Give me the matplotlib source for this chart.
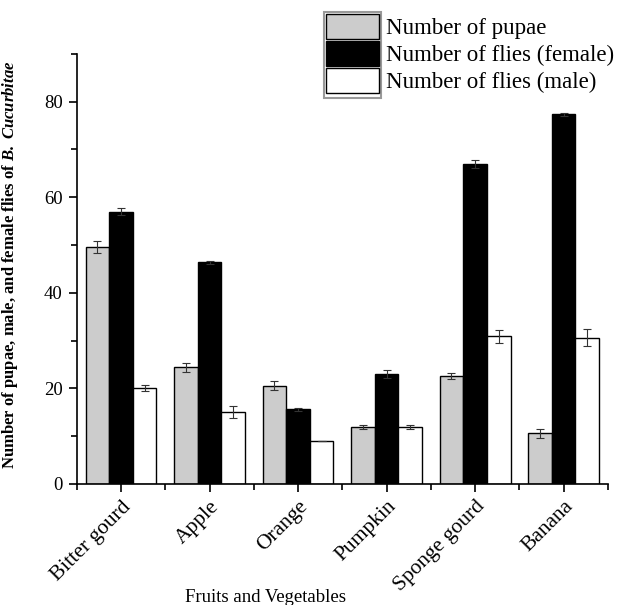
import numpy as np
import matplotlib.pyplot as plt
from matplotlib.patches import Rectangle
from matplotlib.ticker import MultipleLocator, FixedLocator

# -----------------------------
# Global style
# -----------------------------
plt.rcParams["font.family"] = "Liberation Serif"
plt.rcParams["mathtext.fontset"] = "custom"
plt.rcParams["mathtext.rm"] = "Liberation Serif"
plt.rcParams["mathtext.bf"] = "Liberation Serif:bold"
plt.rcParams["mathtext.it"] = "Liberation Serif:italic"
plt.rcParams["mathtext.bfit"] = "Liberation Serif:italic:bold"

# -----------------------------
# Data
# -----------------------------
categories = ["Bitter gourd", "Apple", "Orange", "Pumpkin", "Sponge gourd", "Banana"]
series_names = ["Number of pupae", "Number of flies (female)", "Number of flies (male)"]

pupae = [49.6, 24.4, 20.6, 11.9, 22.6, 10.6]
pupae_err = [1.3, 0.9, 0.9, 0.4, 0.6, 0.9]

female = [57.0, 46.4, 15.6, 23.0, 66.9, 77.4]
female_err = [0.8, 0.3, 0.3, 0.8, 0.8, 0.3]

male = [20.1, 15.1, 9.0, 12.0, 30.9, 30.6]
male_err = [0.6, 1.3, 0.1, 0.4, 1.3, 1.75]

# -----------------------------
# Plot
# -----------------------------
fig = plt.figure(figsize=(6.19, 6.05), dpi=100)
ax = fig.add_axes([0.124, 0.2, 0.858, 0.711])

x = np.arange(len(categories))
width = 0.267
colors = ["#cccccc", "#000000", "#ffffff"]
values = [pupae, female, male]
errors = [pupae_err, female_err, male_err]

for i, (vals, errs) in enumerate(zip(values, errors)):
    ax.bar(
        x + (i - 1) * width, vals, width,
        yerr=errs, color=colors[i], edgecolor="black", linewidth=1.0,
        label=series_names[i],
        error_kw=dict(ecolor="#333333", elinewidth=0.8, capsize=3, capthick=0.8),
    )

# -----------------------------
# Axes formatting
# -----------------------------
ax.set_xlim(-0.5, 5.5)
ax.set_ylim(0, 90)
ax.spines["top"].set_visible(False)
ax.spines["right"].set_visible(False)

ax.set_xticks(x)
ax.set_xticklabels(categories, rotation=45, ha="right", rotation_mode="anchor", fontsize=15.5)
ax.xaxis.set_minor_locator(FixedLocator(np.arange(-0.5, 5.6, 1.0)))

ax.set_yticks([0, 20, 40, 60, 80])
ax.yaxis.set_minor_locator(MultipleLocator(10))
ax.tick_params(axis="y", labelsize=13.5, pad=4)
ax.tick_params(which="major", direction="out", length=6, width=1.2)
ax.tick_params(which="minor", direction="out", length=4, width=1.2)
for s in ["left", "bottom"]:
    ax.spines[s].set_linewidth(1.2)

ax.set_xlabel("Fruits and Vegetables", fontsize=13.5)
ax.xaxis.set_label_coords(0.356, -0.245)
ax.set_ylabel(r"Number of pupae, male, and female flies of $\mathbfit{B.\ Cucurbitae}$",
              fontsize=12, fontweight="bold")
ax.yaxis.set_label_coords(-0.107, 0.51)

# -----------------------------
# Legend (frame drawn only round the swatches)
# -----------------------------
leg = fig.legend(
    loc="upper left", bbox_to_anchor=(0.505, 1.0),
    fontsize=16.5, handlelength=2.3, handleheight=1.3,
    labelspacing=0.08, handletextpad=0.3, borderpad=0.1,
    frameon=False,
)
fig.patches.append(Rectangle((324 / 619, 1 - 98 / 605), 57 / 619, 86 / 605,
                             transform=fig.transFigure, fill=False,
                             edgecolor="#999999", linewidth=1.5))

fig.savefig("out.png", dpi=100)
